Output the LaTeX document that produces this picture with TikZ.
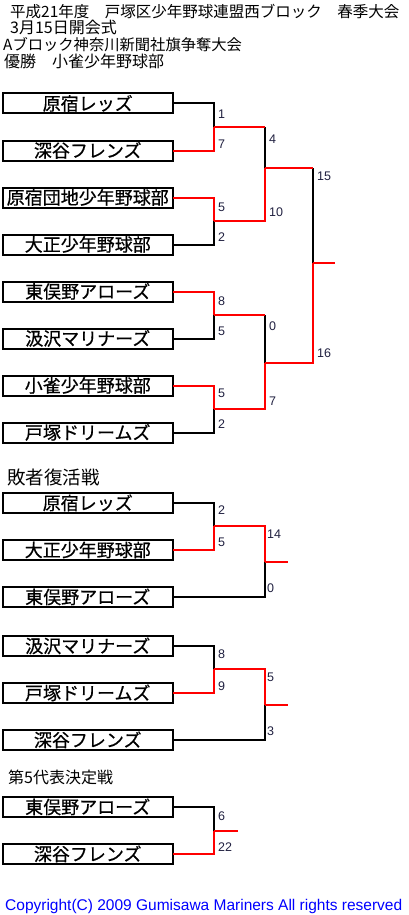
\documentclass[tikz,border=0pt]{standalone}
\usepackage{fontspec}
\usetikzlibrary{positioning}
\setmainfont{Noto Sans CJK JP}
\newfontfamily\teamfont[FakeBold=0.6]{Noto Sans CJK JP}
\newfontfamily\latinfont{Liberation Sans}
\definecolor{winred}{HTML}{FF0000}
\definecolor{scorenavy}{HTML}{202040}
\definecolor{copyblue}{HTML}{0000FF}

\begin{document}
\begin{tikzpicture}[
  x=1pt,y=-1pt,
  node distance=27pt,
  team/.style={draw,line width=2pt,fill=white,inner sep=0pt,outer sep=0pt,
    minimum width=170.5pt,minimum height=20pt,text height=15.8pt,text depth=2.2pt,
    font=\teamfont\fontsize{18pt}{18pt}\selectfont},
  loss/.style={line width=2pt,black},
  win/.style={line width=2pt,winred},
  score/.style={anchor=west,inner sep=0pt,text=scorenavy,
    font=\latinfont\fontsize{12.5pt}{12.5pt}\selectfont},
  heading/.style={anchor=base west,inner sep=0pt}
]
  \useasboundingbox (0,0) rectangle (408,915);

  \node[heading,font=\fontsize{15.5pt}{16pt}\selectfont] (title) at (10,18) {平成21年度　戸塚区少年野球連盟西ブロック　春季大会};
  \node[heading,font=\fontsize{16pt}{16pt}\selectfont] (opening) at (10,34) {3月15日開会式};
  \node[heading,font=\fontsize{15.3pt}{16pt}\selectfont] (cup) at (3,51) {Aブロック神奈川新聞社旗争奪大会};
  \node[heading,font=\fontsize{16pt}{16pt}\selectfont] (champion) at (4,68) {優勝　小雀少年野球部};

  \node[team] (a1) at (87.75,103.5) {原宿レッズ};
  \node[team,below=of a1] (a2) {深谷フレンズ};
  \node[team,below=of a2] (a3) {原宿団地少年野球部};
  \node[team,below=of a3] (a4) {大正少年野球部};
  \node[team,below=of a4] (a5) {東俣野アローズ};
  \node[team,below=of a5] (a6) {汲沢マリナーズ};
  \node[team,below=of a6] (a7) {小雀少年野球部};
  \node[team,below=of a7] (a8) {戸塚ドリームズ};

  \coordinate (j1) at (214,127.5);
  \coordinate (j2) at (214,221);
  \coordinate (j3) at (214,315);
  \coordinate (j4) at (214,409);
  \coordinate (k1) at (265,168);
  \coordinate (k2) at (265,363);
  \coordinate (m) at (313,263);
  \coordinate (mend) at (335,263);

  \draw[loss] (a1.east) -| (j1);
  \draw[win] (a2.east) -| (j1);
  \draw[win] (a3.east) -| (j2);
  \draw[loss] (a4.east) -| (j2);
  \draw[win] (a5.east) -| (j3);
  \draw[loss] (a6.east) -| (j3);
  \draw[win] (a7.east) -| (j4);
  \draw[loss] (a8.east) -| (j4);
  \draw[loss] (j1 -| k1) -- (k1);
  \draw[win] (j1) -- (j1 -| k1);
  \draw[win] (j2) -| (k1);
  \draw[loss] (j3 -| k2) -- (k2);
  \draw[win] (j3) -- (j3 -| k2);
  \draw[win] (j4) -| (k2);
  \draw[loss] (k1 -| m) -- (m);
  \draw[win] (k1) -- (k1 -| m);
  \draw[win] (k2) -| (m);
  \draw[win] (m) -- (mend);

  \node[score] (sa1) at (218,114) {1};
  \node[score] (sa2) at (218,144) {7};
  \node[score] (sa3) at (218,207) {5};
  \node[score] (sa4) at (218,237) {2};
  \node[score] (sa5) at (218,301) {8};
  \node[score] (sa6) at (218,331) {5};
  \node[score] (sa7) at (218,393) {5};
  \node[score] (sa8) at (218,424) {2};
  \node[score] (sk1) at (269,139) {4};
  \node[score] (sk2) at (269,212) {10};
  \node[score] (sk3) at (269,326) {0};
  \node[score] (sk4) at (269,401) {7};
  \node[score] (sm1) at (317,176) {15};
  \node[score] (sm2) at (317,353) {16};

  \node[heading,font=\fontsize{18.5pt}{18pt}\selectfont] (repechage) at (7,484) {敗者復活戦};
  \node[team] (r1) at (87.75,503) {原宿レッズ};
  \node[team,below=of r1] (r2) {大正少年野球部};
  \node[team,below=of r2] (r3) {東俣野アローズ};
  \coordinate (n1) at (214,526);
  \coordinate (n2) at (265,562);
  \coordinate (n2end) at (288,562);
  \draw[loss] (r1.east) -| (n1);
  \draw[win] (r2.east) -| (n1);
  \draw[loss] (r3.east) -| (n2);
  \draw[win] (n1) -| (n2);
  \draw[win] (n2) -- (n2end);
  \node[score] (sr1) at (218,510) {2};
  \node[score] (sr2) at (218,542) {5};
  \node[score] (sr3) at (267,534) {14};
  \node[score] (sr4) at (267,588) {0};

  \node[team] (s1) at (87.75,646) {汲沢マリナーズ};
  \node[team,below=of s1] (s2) {戸塚ドリームズ};
  \node[team,below=of s2] (s3) {深谷フレンズ};
  \coordinate (n3) at (214,669);
  \coordinate (n4) at (265,705);
  \coordinate (n4end) at (288,705);
  \draw[loss] (s1.east) -| (n3);
  \draw[win] (s2.east) -| (n3);
  \draw[loss] (s3.east) -| (n4);
  \draw[win] (n3) -| (n4);
  \draw[win] (n4) -- (n4end);
  \node[score] (ss1) at (218,654) {8};
  \node[score] (ss2) at (218,686) {9};
  \node[score] (ss3) at (267,677) {5};
  \node[score] (ss4) at (267,731) {3};

  \node[heading,font=\fontsize{16pt}{16pt}\selectfont] (fifth) at (8,783) {第5代表決定戦};
  \node[team] (f1) at (87.75,807) {東俣野アローズ};
  \node[team,below=of f1] (f2) {深谷フレンズ};
  \coordinate (n5) at (214,830.5);
  \coordinate (n5end) at (238,830.5);
  \draw[loss] (f1.east) -| (n5);
  \draw[win] (f2.east) -| (n5);
  \draw[win] (n5) -- (n5end);
  \node[score] (sf1) at (218,816) {6};
  \node[score] (sf2) at (218,847) {22};

  \node[heading,text=copyblue,font=\latinfont\fontsize{15.5pt}{15.5pt}\selectfont] (copyright) at (5,910) {Copyright(C) 2009 Gumisawa Mariners All rights reserved};
\end{tikzpicture}
\end{document}
